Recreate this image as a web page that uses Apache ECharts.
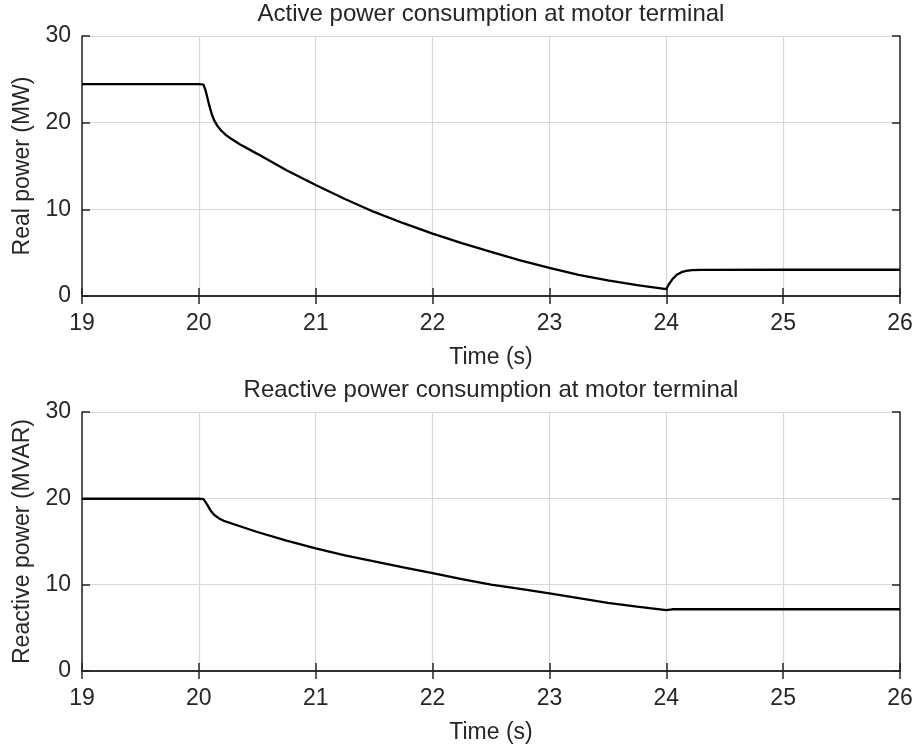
<!DOCTYPE html>
<html>
<head>
<meta charset="utf-8">
<script src="https://cdn.jsdelivr.net/npm/echarts@6/dist/echarts.min.js"></script>
<style>
  html, body { margin: 0; padding: 0; background: #fff; }
  #chart { width: 918px; height: 752px; }
</style>
</head>
<body>
<div id="chart"></div>
<script>
// active power (MW) vs time
var timeP = [19, 20, 20.04, 20.06, 20.085, 20.11, 20.13, 20.16, 20.19, 20.23, 20.27, 20.35, 20.5, 20.75,
  21, 21.25, 21.5, 21.75, 22, 22.25, 22.5, 22.75, 23, 23.25, 23.5, 23.75, 24,
  24.02, 24.05, 24.09, 24.13, 24.17, 24.22, 24.3, 25, 26];
var powerP = [24.45, 24.45, 24.4, 23.6, 22.2, 21.0, 20.3, 19.6, 19.1, 18.6, 18.2, 17.5, 16.4, 14.5,
  12.8, 11.2, 9.7, 8.4, 7.2, 6.1, 5.1, 4.1, 3.25, 2.45, 1.8, 1.25, 0.8,
  1.3, 1.9, 2.45, 2.75, 2.9, 2.98, 3.02, 3.03, 3.03];

// reactive power (MVAR) vs time
var timeQ = [19, 20, 20.04, 20.07, 20.1, 20.13, 20.17, 20.22, 20.3, 20.5, 20.75,
  21, 21.25, 21.5, 21.75, 22, 22.25, 22.5, 22.75, 23, 23.25, 23.5, 23.75, 24,
  24.05, 24.1, 25, 26];
var powerQ = [19.95, 19.95, 19.9, 19.3, 18.6, 18.1, 17.7, 17.35, 17.0, 16.1, 15.1,
  14.2, 13.4, 12.7, 12.0, 11.35, 10.65, 10.0, 9.5, 9.0, 8.45, 7.9, 7.45, 7.05,
  7.15, 7.15, 7.15, 7.15];

var titles = ['Active power consumption at motor terminal', 'Reactive power consumption at motor terminal'];
var yNames = ['Real power (MW)', 'Reactive power (MVAR)'];
var xName = 'Time (s)';

var txt = '#262626';
var font = 'Liberation Sans';

function zip(xs, ys) {
  var out = [];
  for (var i = 0; i < xs.length; i++) out.push([xs[i], ys[i]]);
  return out;
}

function xAxes(g) {
  return [{
    type: 'value', gridIndex: g, position: 'bottom', min: 19, max: 26, interval: 1,
    axisLine: { show: true, lineStyle: { color: txt, width: 1.5 } },
    axisTick: { show: true, inside: true, length: 8, lineStyle: { color: txt, width: 1.5 } },
    axisLabel: { color: txt, fontSize: 23, fontFamily: font, margin: 16 },
    splitLine: { show: true, lineStyle: { color: '#d8d8d8', width: 1.2 } },
    name: xName, nameLocation: 'middle', nameGap: 50,
    nameTextStyle: { color: txt, fontSize: 23, fontFamily: font }
  }, {
    type: 'value', gridIndex: g, position: 'top', min: 19, max: 26, interval: 1,
    axisLine: { show: true, lineStyle: { color: txt, width: 1.5 } },
    axisTick: { show: true, inside: true, length: 8, lineStyle: { color: txt, width: 1.5 } },
    axisLabel: { show: false },
    splitLine: { show: false },
    name: titles[g], nameLocation: 'middle', nameGap: 10,
    nameTextStyle: { color: txt, fontSize: 24, fontFamily: font }
  }];
}

function yAxes(g) {
  return [{
    type: 'value', gridIndex: g, position: 'left', min: 0, max: 30, interval: 10,
    axisLine: { show: true, lineStyle: { color: txt, width: 1.5 } },
    axisTick: { show: true, inside: true, length: 8, lineStyle: { color: txt, width: 1.5 } },
    axisLabel: { color: txt, fontSize: 23, fontFamily: font, margin: 11 },
    splitLine: { show: true, lineStyle: { color: '#d8d8d8', width: 1.2 } },
    name: yNames[g], nameLocation: 'middle', nameGap: 47,
    nameTextStyle: { color: txt, fontSize: 23, fontFamily: font }
  }, {
    type: 'value', gridIndex: g, position: 'right', min: 0, max: 30, interval: 10,
    axisLine: { show: true, lineStyle: { color: txt, width: 1.5 } },
    axisTick: { show: true, inside: true, length: 8, lineStyle: { color: txt, width: 1.5 } },
    axisLabel: { show: false },
    splitLine: { show: false }
  }];
}

var chart = echarts.init(document.getElementById('chart'), null, { renderer: 'canvas' });

var option = {
  backgroundColor: '#fff',
  animation: false,
  grid: [
    { left: 82, top: 36, width: 818, height: 260, containLabel: false },
    { left: 82, top: 412, width: 818, height: 259, containLabel: false }
  ],
  xAxis: xAxes(0).concat(xAxes(1)),
  yAxis: yAxes(0).concat(yAxes(1)),
  series: [{
    type: 'line', xAxisIndex: 0, yAxisIndex: 0,
    data: zip(timeP, powerP), showSymbol: false,
    lineStyle: { color: '#000', width: 2.3 }
  }, {
    type: 'line', xAxisIndex: 2, yAxisIndex: 2,
    data: zip(timeQ, powerQ), showSymbol: false,
    lineStyle: { color: '#000', width: 2.3 }
  }]
};

chart.setOption(option);
</script>
</body>
</html>
